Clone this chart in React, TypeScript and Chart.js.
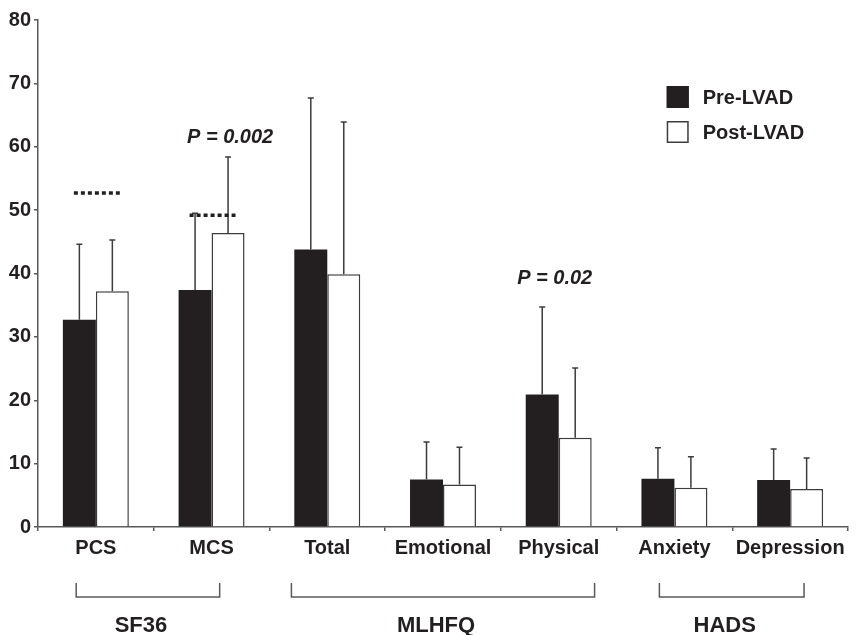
import { useEffect, useRef } from 'react';
import { Chart, registerables } from 'chart.js';

Chart.register(...registerables);

// ---- data ----
const categories = ['PCS', 'MCS', 'Total', 'Emotional', 'Physical', 'Anxiety', 'Depression'];
const preValues = [32.7, 37.4, 43.8, 7.5, 20.9, 7.6, 7.4];
const postValues = [37.2, 46.4, 39.9, 6.7, 14.1, 6.2, 6.0];
const preSD = [11.9, 12.1, 23.9, 5.9, 13.8, 4.9, 4.9];
const postSD = [8.1, 12.0, 24.0, 5.9, 11.0, 4.9, 4.9];
const seriesLabels = ['Pre-LVAD', 'Post-LVAD'];
const yTicks = [0, 10, 20, 30, 40, 50, 60, 70, 80];

// normative reference (dotted lines)
const normCategories = ['PCS', 'MCS'];
const normValues = [52.7, 49.2];

// p-value annotations
const pCategories = ['MCS', 'Physical'];
const pTexts = ['P = 0.002', 'P = 0.02'];
const pYValues = [61.5, 39.2];

// groups
const groupNames = ['SF36', 'MLHFQ', 'HADS'];
const groupFirst = ['PCS', 'Total', 'Anxiety'];
const groupLast = ['MCS', 'Physical', 'Depression'];

// ---- styles ----
const INK = '#231f20';
const AXIS = '#595959';
const ERR = '#3c3c3c';
const FONT = '"Liberation Sans", Arial, Helvetica, sans-serif';
const pXShift = [0.16, -0.035];
const bracketPad = [
  [-0.17, 0.07],
  [-0.31, 0.31],
  [-0.13, 0.12],
];

const overlayPlugin = {
  id: 'overlay',
  afterDatasetsDraw(chart: any) {
    const ctx = chart.ctx;
    const x = chart.scales.x;
    const y = chart.scales.y;
    const sds = [preSD, postSD];
    const vals = [preValues, postValues];
    ctx.save();
    // error bars
    ctx.strokeStyle = ERR;
    ctx.lineWidth = 1.5;
    for (let d = 0; d < 2; d++) {
      const meta = chart.getDatasetMeta(d);
      meta.data.forEach((bar: any, j: number) => {
        const top = y.getPixelForValue(vals[d][j] + sds[d][j]);
        ctx.beginPath();
        ctx.moveTo(bar.x, bar.y);
        ctx.lineTo(bar.x, top);
        ctx.moveTo(bar.x - 3, top);
        ctx.lineTo(bar.x + 3, top);
        ctx.stroke();
      });
    }
    // norm dotted lines
    const cw = x.getPixelForValue(1) - x.getPixelForValue(0);
    ctx.strokeStyle = INK;
    ctx.lineWidth = 3.5;
    ctx.setLineDash([4, 3]);
    normCategories.forEach((c, i) => {
      const cx = x.getPixelForValue(categories.indexOf(c));
      const yy = y.getPixelForValue(normValues[i]);
      ctx.beginPath();
      ctx.moveTo(cx - cw * 0.19, yy);
      ctx.lineTo(cx + cw * 0.207, yy);
      ctx.stroke();
    });
    ctx.setLineDash([]);
    // p texts
    ctx.fillStyle = INK;
    ctx.font = `italic bold 20px ${FONT}`;
    ctx.textAlign = 'center';
    ctx.textBaseline = 'middle';
    pCategories.forEach((c, i) => {
      const cx = x.getPixelForValue(categories.indexOf(c)) + pXShift[i] * cw;
      ctx.fillText(pTexts[i], cx, y.getPixelForValue(pYValues[i]));
    });
    ctx.restore();
  },
  afterDraw(chart: any) {
    const ctx = chart.ctx;
    const x = chart.scales.x;
    const area = chart.chartArea;
    const cw = x.getPixelForValue(1) - x.getPixelForValue(0);
    ctx.save();
    // legend
    const lx = area.left + (area.right - area.left) * 0.7762;
    const ly = [86, 121];
    ctx.font = `bold 20px ${FONT}`;
    ctx.textBaseline = 'middle';
    ctx.textAlign = 'left';
    chart.data.datasets.forEach((ds: any, i: number) => {
      ctx.fillStyle = ds.backgroundColor;
      ctx.fillRect(lx, ly[i], 22, 22);
      ctx.strokeStyle = i === 0 ? INK : ERR;
      ctx.lineWidth = 1.5;
      ctx.strokeRect(lx + 0.75, ly[i] + 0.75, 20.5, 20.5);
      ctx.fillStyle = INK;
      ctx.fillText(ds.label, lx + 36, ly[i] + 12);
    });
    // group brackets
    const bTop = area.bottom + 56;
    const bBot = area.bottom + 70;
    ctx.strokeStyle = AXIS;
    ctx.lineWidth = 1.5;
    groupNames.forEach((g, i) => {
      const x0 = x.getPixelForValue(categories.indexOf(groupFirst[i])) + bracketPad[i][0] * cw;
      const x1 = x.getPixelForValue(categories.indexOf(groupLast[i])) + bracketPad[i][1] * cw;
      ctx.beginPath();
      ctx.moveTo(x0, bTop);
      ctx.lineTo(x0, bBot);
      ctx.lineTo(x1, bBot);
      ctx.lineTo(x1, bTop);
      ctx.stroke();
      ctx.fillStyle = INK;
      ctx.font = `bold 22px ${FONT}`;
      ctx.textAlign = 'center';
      ctx.fillText(g, (x0 + x1) / 2 - 7, area.bottom + 99);
    });
    ctx.restore();
  },
};

export default function App() {
  const ref = useRef<HTMLCanvasElement>(null);
  useEffect(() => {
    if (!ref.current) return;
    const chart = new Chart(ref.current, {
      type: 'bar',
      data: {
        labels: categories,
        datasets: [
          {
            label: seriesLabels[0],
            data: preValues,
            backgroundColor: INK,
            borderWidth: 0,
          },
          {
            label: seriesLabels[1],
            data: postValues,
            backgroundColor: '#ffffff',
            borderColor: ERR,
            borderWidth: 1.5,
          },
        ],
      },
      options: {
        responsive: false,
        animation: false,
        layout: { padding: { left: 0, right: 8, top: 20, bottom: 0 } },
        datasets: { bar: { categoryPercentage: 0.57, barPercentage: 1 } },
        plugins: { legend: { display: false }, tooltip: { enabled: false } },
        scales: {
          x: {
            grid: {
              display: true,
              offset: true,
              drawOnChartArea: false,
              drawTicks: true,
              tickLength: 4,
              color: AXIS,
              lineWidth: 1.5,
            },
            border: { display: true, color: AXIS, width: 1.5 },
            ticks: {
              color: INK,
              font: { family: FONT, size: 20, weight: 'bold' },
              padding: 5,
              maxRotation: 0,
              autoSkip: false,
            },
            afterFit: (s: any) => {
              s.height = 108;
            },
          },
          y: {
            min: 0,
            max: 80,
            afterBuildTicks: (s: any) => {
              s.ticks = yTicks.map((v) => ({ value: v }));
            },
            grid: {
              display: true,
              drawOnChartArea: false,
              drawTicks: true,
              tickLength: 4,
              color: AXIS,
              lineWidth: 1.5,
            },
            border: { display: true, color: AXIS, width: 1.5 },
            ticks: {
              color: INK,
              font: { family: FONT, size: 20, weight: 'bold' },
              padding: 3,
            },
            afterFit: (s: any) => {
              s.width = 38;
            },
          },
        },
      } as any,
      plugins: [overlayPlugin],
    });
    return () => chart.destroy();
  }, []);
  return (
    <canvas
      ref={ref}
      width={856}
      height={635}
      style={{ position: 'absolute', left: 0, top: 0, width: 856, height: 635 }}
    />
  );
}
